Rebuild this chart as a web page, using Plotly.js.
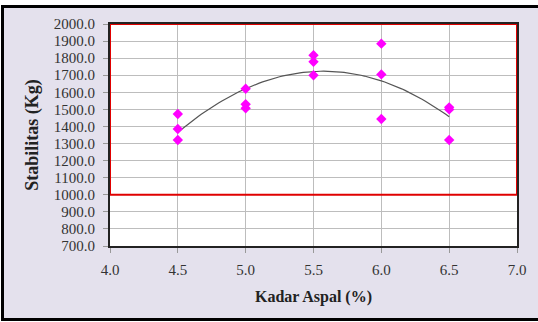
<!DOCTYPE html>
<html>
<head>
<meta charset="utf-8">
<script src="https://cdn.plot.ly/plotly-3.0.1.min.js"></script>
<style>
  html, body { margin: 0; padding: 0; background: #ffffff; }
  #frame {
    position: absolute; left: 1px; top: 5px; width: 537px; height: 316px;
    box-sizing: border-box; background: #e4e1ed;
    border-left: 3px solid #000; border-top: 3px solid #000; border-bottom: 3px solid #000;
  }
  #chart { position: absolute; left: 0; top: 0; width: 538px; height: 322px; }
</style>
</head>
<body>
<div id="frame"></div>
<div id="chart"></div>
<script>
// Asphalt content (%) of each specimen and its measured stability (kg)
const kadarAspal = [4.5, 4.5, 4.5, 5.0, 5.0, 5.0, 5.5, 5.5, 5.5, 6.0, 6.0, 6.0, 6.5, 6.5, 6.5];
const stabilitas = [1473, 1385, 1321, 1621, 1530, 1506, 1817, 1779, 1700, 1885, 1705, 1444, 1512, 1500, 1321];

// Specification band for stability
const specMin = 1000;
const specMax = 2000;

const xTicks = [4.0, 4.5, 5.0, 5.5, 6.0, 6.5, 7.0];
const yTicks = [700, 800, 900, 1000, 1100, 1200, 1300, 1400, 1500, 1600, 1700, 1800, 1900, 2000];

// Second-order least-squares trendline through the specimens
function polyFit2(xs, ys) {
  let S = [0, 0, 0, 0, 0], T = [0, 0, 0];
  for (let i = 0; i < xs.length; i++) {
    let p = 1;
    for (let k = 0; k < 5; k++) { S[k] += p; if (k < 3) T[k] += p * ys[i]; p *= xs[i]; }
  }
  const A = [[S[0], S[1], S[2], T[0]], [S[1], S[2], S[3], T[1]], [S[2], S[3], S[4], T[2]]];
  for (let c = 0; c < 3; c++) {
    for (let r = c + 1; r < 3; r++) {
      const f = A[r][c] / A[c][c];
      for (let k = c; k < 4; k++) A[r][k] -= f * A[c][k];
    }
  }
  const coef = [0, 0, 0];
  for (let r = 2; r >= 0; r--) {
    let s = A[r][3];
    for (let k = r + 1; k < 3; k++) s -= A[r][k] * coef[k];
    coef[r] = s / A[r][r];
  }
  return coef;
}
const coef = polyFit2(kadarAspal, stabilitas);
const xMin = Math.min(...kadarAspal), xMax = Math.max(...kadarAspal);
const trendX = [], trendY = [];
for (let i = 0; i <= 80; i++) {
  const x = xMin + (xMax - xMin) * i / 80;
  trendX.push(x);
  trendY.push(coef[0] + coef[1] * x + coef[2] * x * x);
}

const serif = '"Liberation Serif", "Times New Roman", serif';
const tickFont = { family: serif, size: 15, color: '#333333' };

const data = [
  {
    x: trendX, y: trendY, type: 'scatter', mode: 'lines',
    line: { color: '#555555', width: 1.2 }, hoverinfo: 'skip', showlegend: false
  },
  {
    x: kadarAspal, y: stabilitas, type: 'scatter', mode: 'markers',
    marker: { symbol: 'diamond', size: 8, color: '#ff00ff' }, showlegend: false
  }
];

const layout = {
  width: 538, height: 322,
  margin: { l: 110, r: 21, t: 24, b: 76 },
  paper_bgcolor: 'rgba(0,0,0,0)',
  plot_bgcolor: '#ffffff',
  xaxis: {
    range: [4.0, 7.0], tickvals: xTicks, ticktext: xTicks.map(v => v.toFixed(1)),
    showgrid: true, gridcolor: '#bdbdbd', gridwidth: 1,
    ticks: 'outside', ticklen: 5, tickcolor: '#999999', ticklabelstandoff: 4,
    showline: true, linecolor: '#222222', linewidth: 2, mirror: true,
    zeroline: false, tickfont: tickFont,
    title: { text: 'Kadar Aspal (%)', font: { family: serif, size: 16, color: '#222222', weight: 'bold' }, standoff: 14 }
  },
  yaxis: {
    range: [700, 2000], tickvals: yTicks, ticktext: yTicks.map(v => v.toFixed(1)),
    showgrid: true, gridcolor: '#bdbdbd', gridwidth: 1,
    ticks: 'outside', ticklen: 5, tickcolor: '#999999', ticklabelstandoff: 5,
    showline: true, linecolor: '#222222', linewidth: 2, mirror: true,
    zeroline: false, tickfont: tickFont,
    title: { text: 'Stabilitas (Kg)', font: { family: serif, size: 18, color: '#222222', weight: 'bold' }, standoff: 10 }
  },
  shapes: [
    {
      type: 'rect', xref: 'x', yref: 'y', x0: 4.0, x1: 7.0, y0: specMin, y1: specMax,
      line: { color: '#e00000', width: 2 }, fillcolor: 'rgba(0,0,0,0)', layer: 'above'
    }
  ]
};

Plotly.newPlot('chart', data, layout, { displayModeBar: false, staticPlot: true });
</script>
</body>
</html>
